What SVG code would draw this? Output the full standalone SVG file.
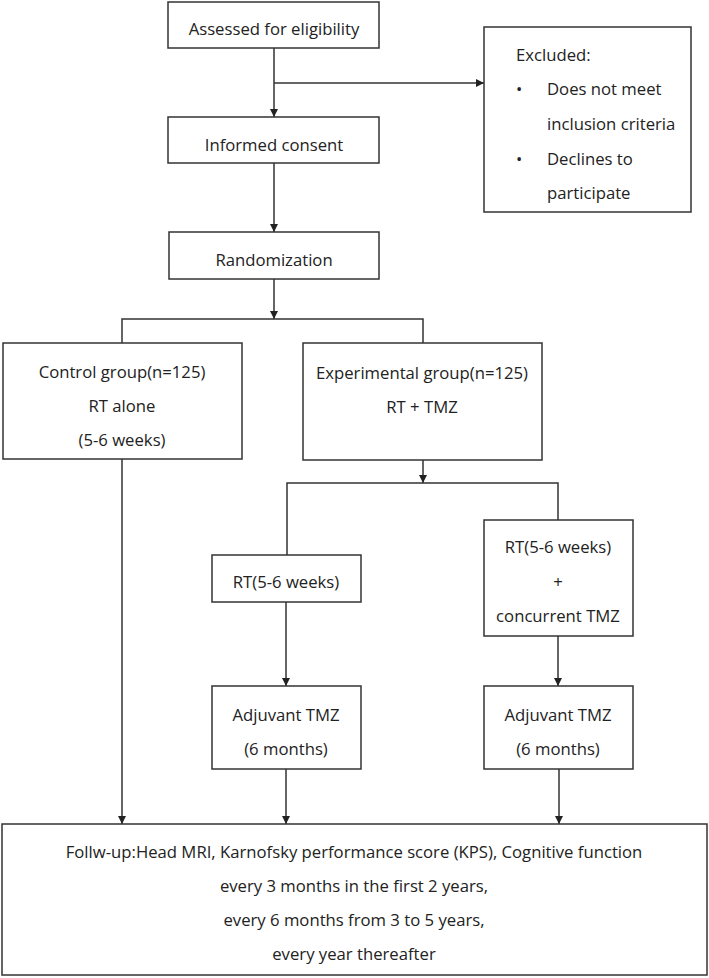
<svg xmlns="http://www.w3.org/2000/svg" width="709" height="978" viewBox="0 0 709 978">
<style>
.box{fill:#fff;stroke:#333;stroke-width:1.5}
.t{font-family:"Open Sans","Noto Sans","Liberation Sans",sans-serif;font-size:16.7px;fill:#222}
.c{text-anchor:middle}
.ln{fill:none;stroke:#333;stroke-width:1.5}
</style>
<defs>
<marker id="ah" markerUnits="userSpaceOnUse" markerWidth="9" markerHeight="8" refX="8" refY="4" orient="auto">
<path d="M0,0 L8,4 L0,8 z" fill="#222"/>
</marker>
</defs>
<rect width="709" height="978" fill="#fff"/>
<g id="connectors">
<line class="ln" x1="274" y1="48" x2="274" y2="117" marker-end="url(#ah)"/>
<line class="ln" x1="274" y1="83" x2="484" y2="83" marker-end="url(#ah)"/>
<line class="ln" x1="274" y1="163" x2="274" y2="232" marker-end="url(#ah)"/>
<line class="ln" x1="274" y1="279" x2="274" y2="319" marker-end="url(#ah)"/>
<polyline class="ln" points="122,343 122,319 423,319 423,343"/>
<line class="ln" x1="423" y1="460" x2="423" y2="483" marker-end="url(#ah)"/>
<polyline class="ln" points="287,555 287,483 558,483 558,520"/>
<line class="ln" x1="286" y1="602" x2="286" y2="686" marker-end="url(#ah)"/>
<line class="ln" x1="558" y1="636" x2="558" y2="686" marker-end="url(#ah)"/>
<line class="ln" x1="122" y1="459" x2="122" y2="824" marker-end="url(#ah)"/>
<line class="ln" x1="286" y1="769" x2="286" y2="824" marker-end="url(#ah)"/>
<line class="ln" x1="559" y1="769" x2="559" y2="824" marker-end="url(#ah)"/>
</g>
<g id="assessed">
<rect class="box" x="168" y="2" width="211" height="46"/>
<text class="t c" x="274" y="35">Assessed for eligibility</text>
</g>
<g id="excluded">
<rect class="box" x="484" y="27" width="207" height="185"/>
<text class="t" x="516" y="61">Excluded:</text>
<text class="t" x="516" y="95">•</text>
<text class="t" x="547" y="95">Does not meet</text>
<text class="t" x="547" y="130">inclusion criteria</text>
<text class="t" x="516" y="165">•</text>
<text class="t" x="547" y="165">Declines to</text>
<text class="t" x="547" y="199">participate</text>
</g>
<g id="consent">
<rect class="box" x="168" y="117" width="211" height="46"/>
<text class="t c" x="274" y="151">Informed consent</text>
</g>
<g id="randomization">
<rect class="box" x="169" y="232" width="210" height="47"/>
<text class="t c" x="274" y="266">Randomization</text>
</g>
<g id="control">
<rect class="box" x="3" y="343" width="239" height="116"/>
<text class="t c" x="122" y="378">Control group(n=125)</text>
<text class="t c" x="122" y="412">RT alone</text>
<text class="t c" x="122" y="446">(5-6 weeks)</text>
</g>
<g id="experimental">
<rect class="box" x="303" y="343" width="239" height="117"/>
<text class="t c" x="422" y="379">Experimental group(n=125)</text>
<text class="t c" x="422" y="413">RT + TMZ</text>
</g>
<g id="rt">
<rect class="box" x="212" y="555" width="149" height="47"/>
<text class="t c" x="286" y="588">RT(5-6 weeks)</text>
</g>
<g id="rt-tmz">
<rect class="box" x="484" y="520" width="149" height="116"/>
<text class="t c" x="558" y="553">RT(5-6 weeks)</text>
<text class="t c" x="558" y="588">+</text>
<text class="t c" x="558" y="622">concurrent TMZ</text>
</g>
<g id="adjuvant-left">
<rect class="box" x="212" y="686" width="149" height="83"/>
<text class="t c" x="286" y="721">Adjuvant TMZ</text>
<text class="t c" x="286" y="755">(6 months)</text>
</g>
<g id="adjuvant-right">
<rect class="box" x="484" y="686" width="149" height="83"/>
<text class="t c" x="558" y="721">Adjuvant TMZ</text>
<text class="t c" x="558" y="755">(6 months)</text>
</g>
<g id="followup">
<rect class="box" x="2" y="824" width="705" height="151"/>
<text class="t c" x="354" y="858">Follw-up:Head MRI, Karnofsky performance score (KPS), Cognitive function</text>
<text class="t c" x="354" y="892">every 3 months in the first 2 years,</text>
<text class="t c" x="354" y="926">every 6 months from 3 to 5 years,</text>
<text class="t c" x="354" y="960">every year thereafter</text>
</g>
</svg>
